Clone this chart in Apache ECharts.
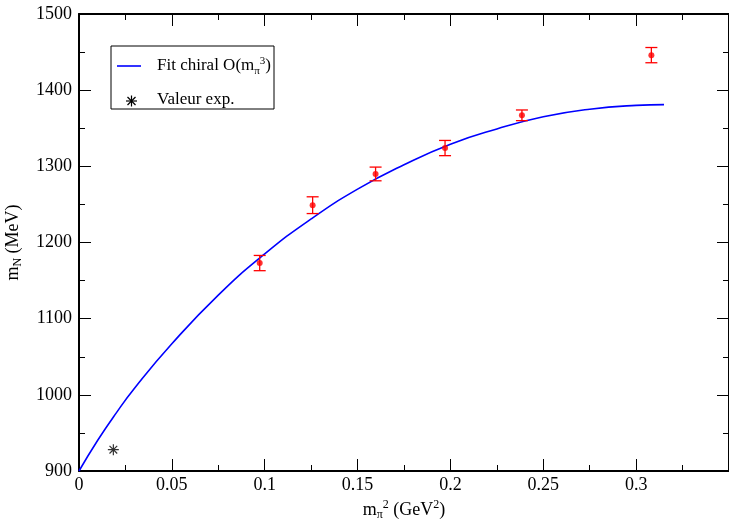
<!DOCTYPE html>
<html>
<head>
<meta charset="utf-8">
<script src="https://cdn.jsdelivr.net/npm/echarts@6/dist/echarts.min.js"></script>
<style>
  html, body { margin: 0; padding: 0; background: #fff; }
  #chart { width: 729px; height: 524px; }
</style>
</head>
<body>
<div id="chart"></div>
<script>
// points lattice (m_pi^2 en GeV^2, m_N en MeV, erreur)
var massSq = [0.0973, 0.1258, 0.1597, 0.1971, 0.2385, 0.3082];
var massN = [1173, 1249, 1290, 1324, 1367, 1446];
var errN = [10, 11, 9, 10, 7, 10];

// courbe du fit chiral
var fitX = [0, 0.01, 0.02, 0.03, 0.05, 0.075, 0.1, 0.125, 0.15, 0.175, 0.2, 0.225, 0.25, 0.275, 0.3, 0.315];
var fitY = [900, 940, 976, 1009, 1067, 1131, 1185, 1231, 1270, 1302, 1329, 1349, 1365, 1375, 1380, 1381];

// valeur experimentale
var expX = [0.0185];
var expY = [928];

var xTicks = [0, 0.05, 0.1, 0.15, 0.2, 0.25, 0.3];

var serif = '"Liberation Serif", "DejaVu Serif", serif';
var richTxt = {
    t: { fontFamily: serif, fontSize: 18, color: '#000' },
    sub: { fontFamily: serif, fontSize: 12, color: '#000', padding: [10, 0, 0, 0] },
    sup: { fontFamily: serif, fontSize: 12, color: '#000', padding: [0, 0, 10, 0] }
};
var legendRich = {
    t: { fontFamily: serif, fontSize: 17, color: '#000' },
    sub: { fontFamily: serif, fontSize: 11, color: '#000', padding: [10, 0, 0, 0] },
    sup: { fontFamily: serif, fontSize: 11, color: '#000', padding: [0, 0, 10, 0] }
};

var chart = echarts.init(document.getElementById('chart'));

function frameAxis(pos, isX) {
    return {
        type: 'value',
        position: pos,
        min: isX ? 0 : 900,
        max: isX ? 0.35 : 1500,
        interval: isX ? 0.05 : 100,
        axisLine: { show: true, onZero: false, lineStyle: { color: '#000', width: 2 } },
        axisTick: { show: true, inside: true, length: 12, lineStyle: { color: '#000', width: 1 } },
        minorTick: { show: true, splitNumber: 2, length: 6, lineStyle: { color: '#000', width: 1 } },
        splitLine: { show: false },
        minorSplitLine: { show: false },
        axisLabel: { show: false }
    };
}

var xBottom = frameAxis('bottom', true);
xBottom.axisLabel = {
    show: true, margin: 5, fontFamily: serif, fontSize: 18, color: '#000',
    formatter: function (v) {
        var r = Math.round(v * 100) / 100;
        return xTicks.indexOf(r) >= 0 ? String(r) : '';
    }
};
xBottom.name = '{t|m}{sub|π}{sup|2}{t| (GeV}{sup|2}{t|)}';
xBottom.nameLocation = 'middle';
xBottom.nameGap = 28;
xBottom.nameTextStyle = { rich: richTxt };

var yLeft = frameAxis('left', false);
yLeft.axisLabel = {
    show: true, margin: 7, fontFamily: serif, fontSize: 18, color: '#000',
    formatter: function (v) { return String(v); }
};
yLeft.name = '{t|m}{sub|N}{t| (MeV)}';
yLeft.nameLocation = 'middle';
yLeft.nameRotate = 90;
yLeft.nameGap = 55;
yLeft.nameTextStyle = { rich: richTxt };

var starLine = function (x1, y1, x2, y2) {
    return { type: 'line', z: 12, shape: { x1: x1, y1: y1, x2: x2, y2: y2 }, style: { stroke: '#000', lineWidth: 1.2 } };
};

var option = {
    backgroundColor: '#fff',
    animation: false,
    grid: { left: 79, right: 0, top: 14, bottom: 53, outerBoundsMode: 'none', containLabel: false },
    xAxis: [xBottom, frameAxis('top', true)],
    yAxis: [yLeft, frameAxis('right', false)],
    series: [
        {
            name: 'Fit chiral',
            type: 'line',
            data: fitX.map(function (x, i) { return [x, fitY[i]]; }),
            showSymbol: false,
            smooth: true,
            lineStyle: { color: '#0000ff', width: 1.6 },
            z: 2
        },
        {
            type: 'custom',
            data: massSq.map(function (x, i) { return [x, massN[i] - errN[i], massN[i] + errN[i]]; }),
            encode: { x: 0, y: [1, 2] },
            renderItem: function (params, api) {
                var x = api.value(0);
                var lo = api.coord([x, api.value(1)]);
                var hi = api.coord([x, api.value(2)]);
                var w = 6;
                var st = { stroke: '#ff0000', lineWidth: 1.3 };
                return {
                    type: 'group',
                    children: [
                        { type: 'line', shape: { x1: lo[0], y1: lo[1], x2: hi[0], y2: hi[1] }, style: st },
                        { type: 'line', shape: { x1: lo[0] - w, y1: lo[1], x2: lo[0] + w, y2: lo[1] }, style: st },
                        { type: 'line', shape: { x1: hi[0] - w, y1: hi[1], x2: hi[0] + w, y2: hi[1] }, style: st }
                    ]
                };
            },
            z: 3
        },
        {
            type: 'scatter',
            data: massSq.map(function (x, i) { return [x, massN[i]]; }),
            symbol: 'circle',
            symbolSize: 6,
            itemStyle: { color: '#ff0000' },
            z: 4
        },
        {
            name: 'Valeur exp.',
            type: 'scatter',
            data: expX.map(function (x, i) { return [x, expY[i]]; }),
            symbol: 'path://M5,0L5,10M0,5L10,5M1.5,1.5L8.5,8.5M1.5,8.5L8.5,1.5',
            symbolSize: 11,
            itemStyle: { color: 'none', borderColor: '#000', borderWidth: 1.2 },
            z: 4
        }
    ],
    graphic: [
        { type: 'rect', shape: { x: 111, y: 46, width: 163, height: 63 }, style: { fill: '#fff', stroke: '#000', lineWidth: 1 }, z: 10 },
        { type: 'line', shape: { x1: 117, y1: 66, x2: 141, y2: 66 }, style: { stroke: '#0000ff', lineWidth: 1.6 }, z: 11 },
        { type: 'text', x: 157, y: 66, style: { text: '{t|Fit chiral O(m}{sub|π}{sup|3}{t|)}', rich: legendRich, verticalAlign: 'middle' }, z: 11 },
        starLine(131.5, 95.5, 131.5, 106.5),
        starLine(126, 101, 137, 101),
        starLine(127.5, 97, 135.5, 105),
        starLine(127.5, 105, 135.5, 97),
        { type: 'text', x: 157, y: 100, style: { text: 'Valeur exp.', fontFamily: serif, fontSize: 17, fill: '#000', verticalAlign: 'middle' }, z: 11 }
    ]
};

chart.setOption(option);
</script>
</body>
</html>
